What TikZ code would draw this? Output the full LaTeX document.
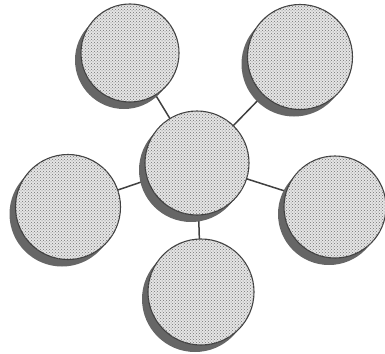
\documentclass[tikz,border=0pt]{standalone}
\usetikzlibrary{patterns,shadows,backgrounds}
\begin{document}
\begin{tikzpicture}[x=1pt,y=-1pt,
  bubble/.style={circle, draw=black!75, line width=1.1pt, inner sep=0pt,
    minimum size=#1, fill=black!10,
    drop shadow={shadow xshift=-6pt, shadow yshift=-7pt, opacity=1, fill=black!60},
    postaction={pattern=crosshatch dots, pattern color=black!55}},
  link/.style={draw=black!75, line width=1.5pt}]
\useasboundingbox (0,0) rectangle (385,353);
\node[bubble=104pt] (c)  at (197,163) {};
\node[bubble=98pt]  (tl) at (130,53)  {};
\node[bubble=105pt] (tr) at (300,57)  {};
\node[bubble=105pt] (l)  at (68,207)  {};
\node[bubble=102pt] (r)  at (335,207) {};
\node[bubble=106pt] (b)  at (201,292) {};
\begin{scope}[on background layer]
\draw[link] (c.center) -- (tl.center);
\draw[link] (c.center) -- (tr.center);
\draw[link] (c.center) -- (l.center);
\draw[link] (c.center) -- (r.center);
\draw[link] (c.center) -- (b.center);
\end{scope}
\end{tikzpicture}
\end{document}
